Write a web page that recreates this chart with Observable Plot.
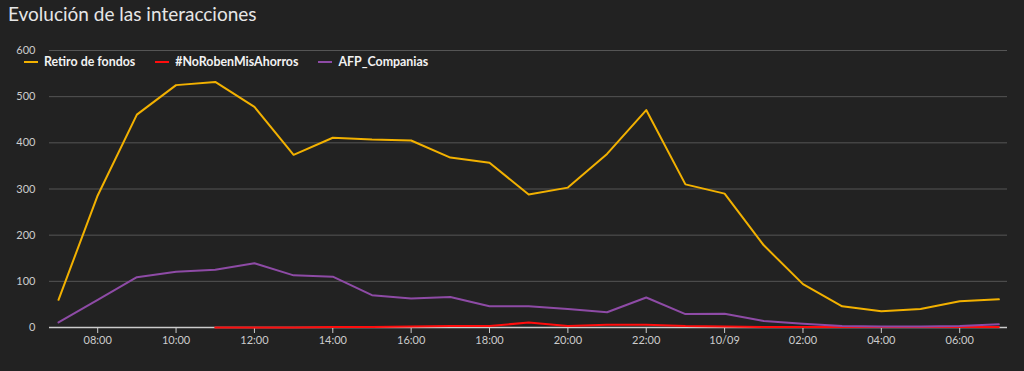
<!DOCTYPE html>
<html>
<head>
<meta charset="utf-8">
<script src="https://cdn.jsdelivr.net/npm/d3@7"></script>
<script src="https://cdn.jsdelivr.net/npm/@observablehq/plot@0.6"></script>
<style>
  html, body { margin: 0; padding: 0; background: #222222; }
  body { width: 1024px; height: 371px; overflow: hidden; font-family: Lato, "Open Sans", sans-serif; }
  #wrap { position: relative; width: 1024px; height: 371px; }
  #title { position: absolute; left: 8px; top: 2px; font-size: 19px; color: #e6e6e6; font-family: Lato, sans-serif; }
  #legend { position: absolute; left: 24px; top: 54px; display: flex; gap: 0; font-size: 12.4px; font-weight: bold; color: #f2f2f2; }
  .item { display: flex; align-items: center; margin-right: 20px; }
  .sw { width: 14px; height: 2px; margin-right: 6px; }
  #chart { position: absolute; left: 0; top: 36px; }
</style>
</head>
<body>
<div id="wrap">
  <div id="title">Evolución de las interacciones</div>
  <div id="chart"></div>
  <div id="legend"></div>
</div>
<script>
const seriesNames = ["Retiro de fondos", "#NoRobenMisAhorros", "AFP_Companias"];
const seriesColors = ["#f2b100", "#ff0d0d", "#8e4ba6"];
// hourly from 07:00 (day 1) to 07:00 (day 2)
const retiro = [60, 286, 461, 525, 532, 478, 374, 411, 407, 405, 368, 357, 288, 303, 376, 471, 310, 290, 178, 94, 46, 35, 40, 57, 61];
const noRoben = [null, null, null, null, 0, 0, 0, 1, 1, 2, 3, 3, 11, 3, 6, 6, 3, 2, 1, 1, 1, 1, 1, 1, 1];
const afp = [11, 60, 109, 121, 125, 139, 113, 110, 70, 63, 66, 46, 46, 40, 33, 65, 29, 30, 14, 8, 3, 2, 2, 3, 7];
const yTicks = [0, 100, 200, 300, 400, 500, 600];
const startHour = Date.UTC(2020, 9, 8, 7);

const rows = [];
[retiro, noRoben, afp].forEach((vals, si) => {
  vals.forEach((v, i) => {
    if (v !== null) rows.push({series: seriesNames[si], time: new Date(startHour + i * 3600e3), value: v});
  });
});

const fmtTick = d => d.getUTCHours() === 0 ? d3.utcFormat("%m/%d")(d) : d3.utcFormat("%H:%M")(d);
const xTicks = d3.utcHour.every(2).range(new Date(startHour + 3600e3), new Date(startHour + 24 * 3600e3));

const plot = Plot.plot({
  width: 1024,
  height: 335,
  marginLeft: 49,
  marginRight: 17,
  marginTop: 14,
  marginBottom: 44,
  style: {background: "#222222", color: "#cccccc", fontFamily: "Lato, 'Open Sans', sans-serif", fontSize: "11px"},
  x: {type: "utc", domain: [new Date(startHour - 0.23 * 3600e3), new Date(startHour + 24.22 * 3600e3)],
      ticks: xTicks, tickFormat: fmtTick, label: null},
  y: {domain: [0, 600], ticks: yTicks, label: null},
  color: {domain: seriesNames, range: seriesColors},
  marks: [
    Plot.gridY(yTicks.filter(d => d > 0), {stroke: "#555555", strokeOpacity: 1, strokeWidth: 1}),
    Plot.axisY({ticks: yTicks, tickSize: 0, tickPadding: 14, fill: "#cccccc", label: null}),
    Plot.axisX({ticks: xTicks, tickFormat: fmtTick, tickSize: 6, tickPadding: 3, stroke: "#cccccc", fill: "#cccccc", label: null}),
    Plot.ruleY([0], {stroke: "#cccccc", strokeWidth: 1.5}),
    Plot.line(rows, {x: "time", y: "value", z: "series", stroke: "series", strokeWidth: 2, curve: "linear"})
  ]
});
document.getElementById("chart").appendChild(plot);

const legend = document.getElementById("legend");
seriesNames.forEach((n, i) => {
  const it = document.createElement("div");
  it.className = "item";
  it.innerHTML = `<span class="sw" style="background:${seriesColors[i]}"></span><span>${n}</span>`;
  legend.appendChild(it);
});
</script>
</body>
</html>
